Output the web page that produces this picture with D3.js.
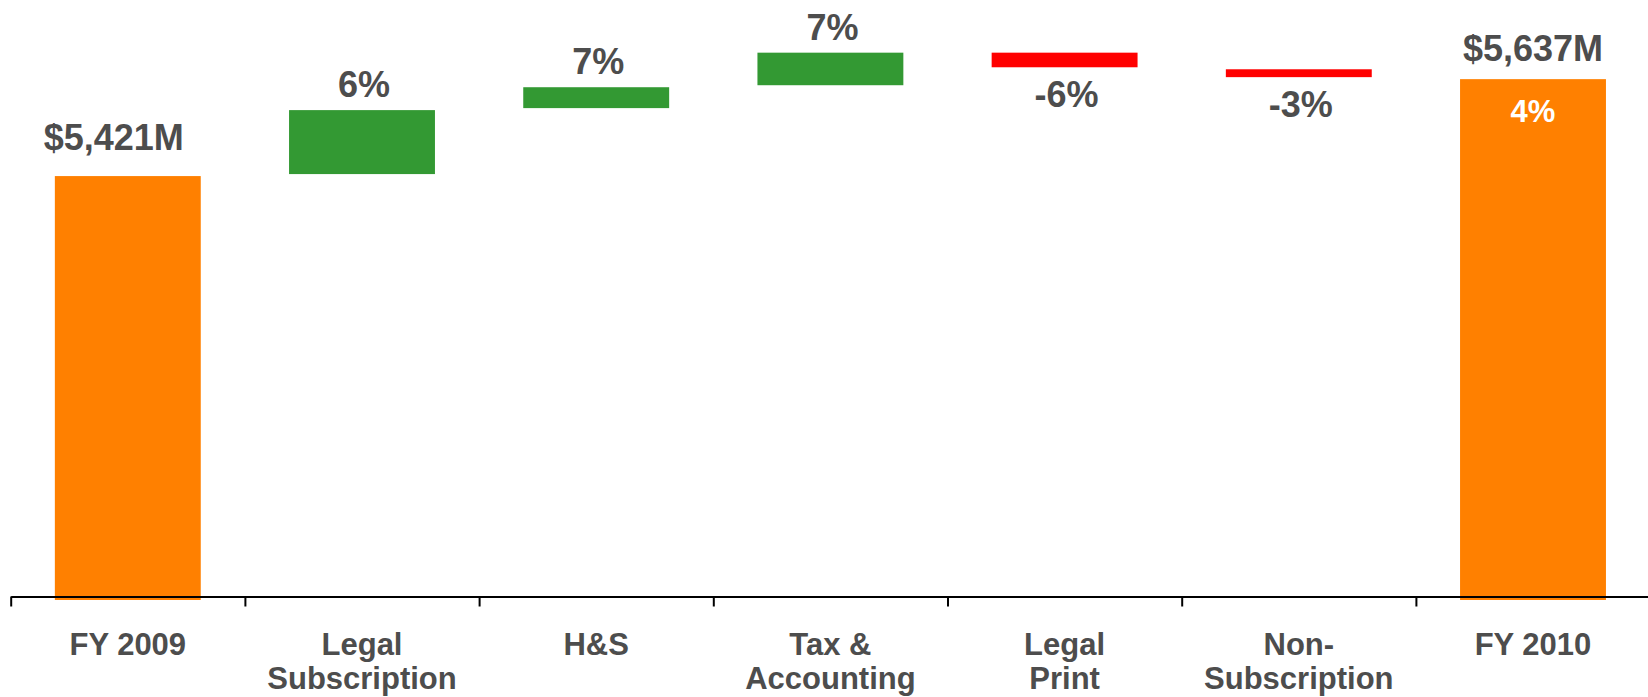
<!DOCTYPE html>
<html>
<head>
<meta charset="utf-8">
<script src="https://cdn.jsdelivr.net/npm/d3@7/dist/d3.min.js"></script>
<style>
  body { margin: 0; background: #fff; }
  text { font-family: "Liberation Sans", Arial, sans-serif; font-weight: bold; }
</style>
</head>
<body>
<div id="chart-area"></div>
<script>
// Revenue bridge FY2009 -> FY2010 ($M)
var categories = ["FY 2009", "Legal\nSubscription", "H&S", "Tax &\nAccounting",
    "Legal\nPrint", "Non-\nSubscription", "FY 2010"];
var startTotal = 5421;
var endTotal = 5637;
var deltas = [147, 51, 77, -37, -22];          // estimated change per segment
var deltaLabels = ["6%", "7%", "7%", "-6%", "-3%"];
var totalLabels = ["$5,421M", "$5,637M"];
var growthLabel = "4%";

var width = 1648, height = 697;
var axisY = 597;
var gap = 2;

var svg = d3.select("#chart-area")
    .append("svg")
        .attr("width", width)
        .attr("height", height);

// Scales
var x = d3.scaleBand()
    .domain(categories)
    .range([10.7, 1650.1])
    .paddingInner(0.377)
    .paddingOuter(0.1885);

var y = d3.scaleLinear()
    .domain([4483, 5800])
    .range([axisY, 6]);

// build the steps
var steps = [];
var level = startTotal;
steps.push({cat: categories[0], type: "total", from: y.domain()[0], to: startTotal, label: totalLabels[0]});
deltas.forEach((d, i) => {
    steps.push({cat: categories[i + 1], type: d >= 0 ? "up" : "down", from: level, to: level + d, label: deltaLabels[i]});
    level += d;
});
steps.push({cat: categories[6], type: "total", from: y.domain()[0], to: endTotal, label: totalLabels[1]});

var color = {total: "#ff8000", up: "#339933", down: "#ff0000"};

// Bars
svg.selectAll("rect.bar")
    .data(steps)
    .enter()
    .append("rect")
        .attr("class", "bar")
        .attr("x", (d) => x(d.cat))
        .attr("width", x.bandwidth())
        .attr("y", (d) => {
            if (d.type == "down") return y(d.from);
            return y(d.to);
        })
        .attr("height", (d) => {
            if (d.type == "total") return axisY + 3 - y(d.to);
            return Math.abs(y(d.to) - y(d.from)) - gap;
        })
        .attr("fill", (d) => color[d.type]);

// Axis: line with ticks between categories
var idx = d3.scaleLinear().domain([0, categories.length]).range(x.range());
var xAxis = d3.axisBottom(idx)
    .tickValues(d3.range(categories.length))
    .tickSize(10)
    .tickSizeOuter(0)
    .tickFormat("");
var axisG = svg.append("g")
    .attr("class", "x axis")
    .attr("transform", "translate(0, " + (axisY - 0.5) + ")")
    .call(xAxis);
axisG.select(".domain").attr("stroke", "#000").attr("stroke-width", 2);
axisG.selectAll(".tick line").attr("stroke", "#000").attr("stroke-width", 2);

// Category labels
var catText = svg.selectAll("text.cat")
    .data(categories)
    .enter()
    .append("text")
        .attr("class", "cat")
        .attr("text-anchor", "middle")
        .attr("font-size", "31px")
        .attr("fill", "#4d4d4d");
catText.selectAll("tspan")
    .data((d) => d.split("\n").map((t) => ({t: t, c: d})))
    .enter()
    .append("tspan")
        .attr("x", (d) => x(d.c) + x.bandwidth() / 2)
        .attr("y", (d, i) => 655 + i * 34)
        .text((d) => d.t);

// Value labels
var totalGap = [26, 18], totalDx = [-14, 0];
svg.selectAll("text.val")
    .data(steps)
    .enter()
    .append("text")
        .attr("class", "val")
        .attr("text-anchor", "middle")
        .attr("font-size", "36px")
        .attr("fill", "#4d4d4d")
        .attr("x", (d, i) => {
            var cx = x(d.cat) + x.bandwidth() / 2;
            if (d.type == "total") return cx + totalDx[i == 0 ? 0 : 1];
            return cx + 2;
        })
        .attr("y", (d, i) => {
            if (d.type == "total") return y(d.to) - totalGap[i == 0 ? 0 : 1];
            if (d.type == "up") return y(d.to) - 13;
            return y(d.to) + 38;
        })
        .text((d) => d.label);

// growth inside final bar
svg.append("text")
    .attr("text-anchor", "middle")
    .attr("font-size", "31px")
    .attr("fill", "#fff")
    .attr("x", x(categories[6]) + x.bandwidth() / 2)
    .attr("y", y(endTotal) + 43)
    .text(growthLabel);
</script>
</body>
</html>
